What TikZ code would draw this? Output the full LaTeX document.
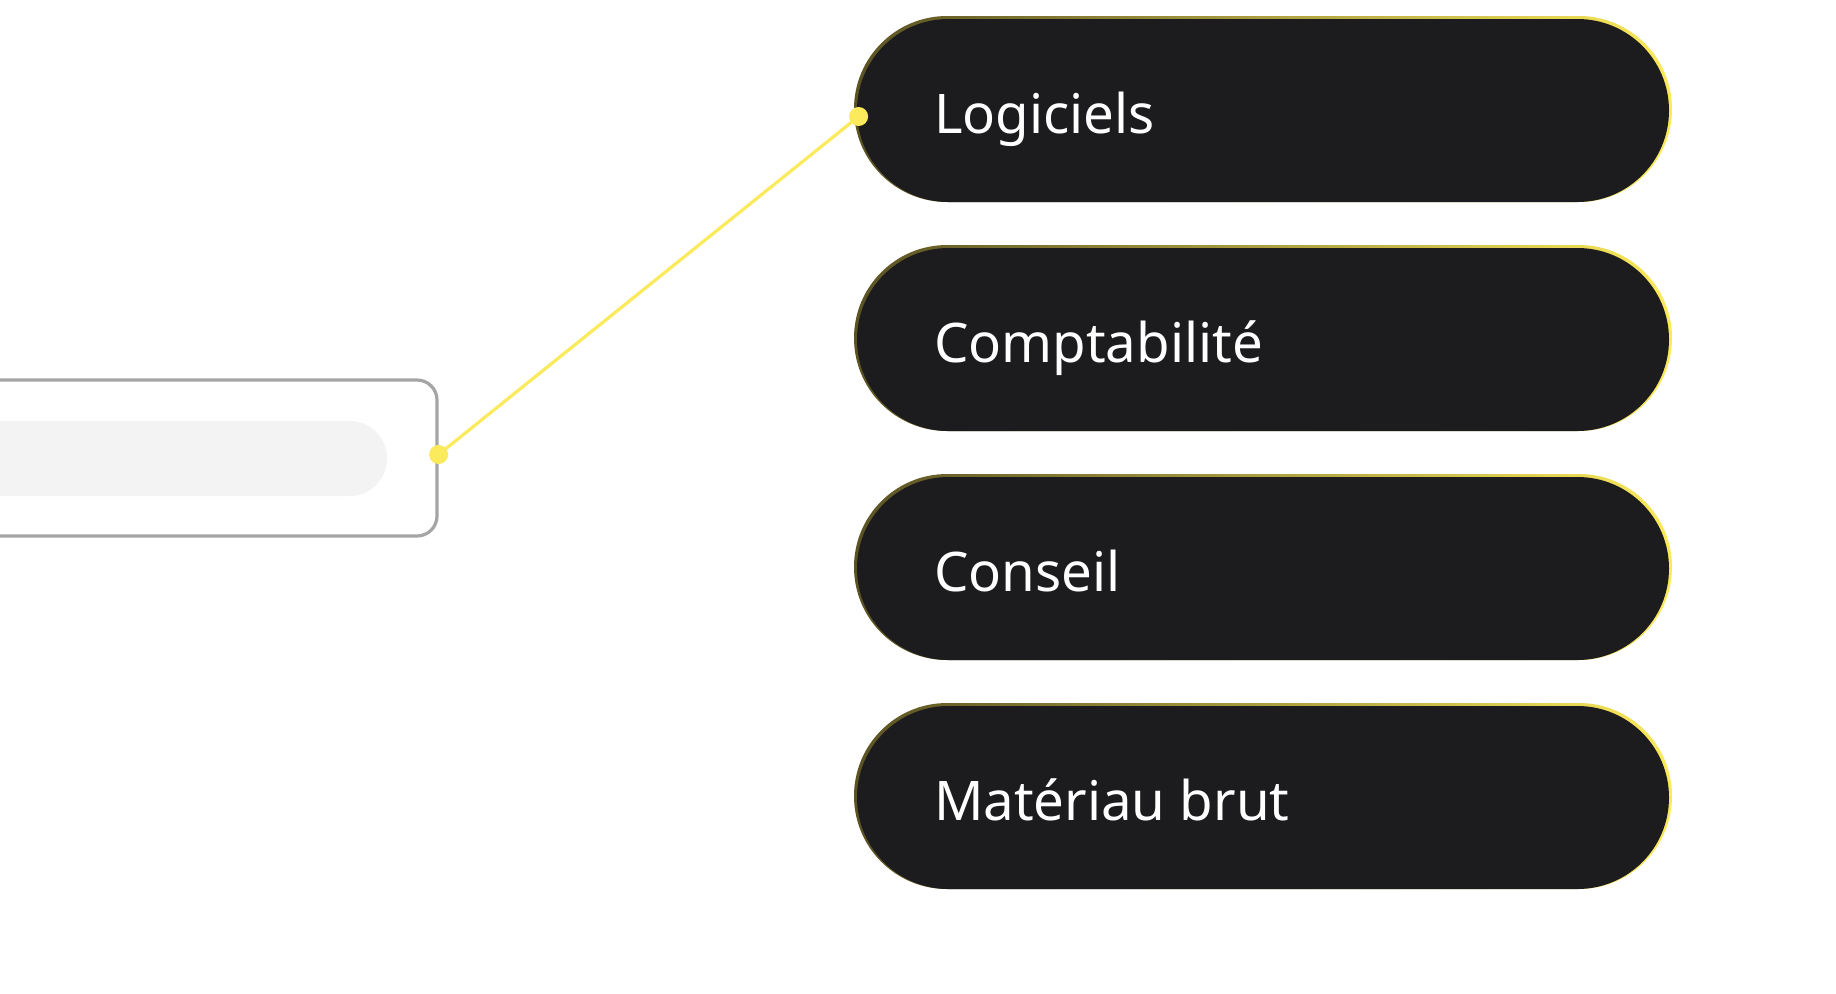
\documentclass[tikz,border=0pt]{standalone}
\usepackage{fontspec}
\setmainfont{Noto Sans}
\usepackage{xcolor}
\usetikzlibrary{positioning}
\definecolor{pillc}{HTML}{1C1B1E}
\definecolor{yellowc}{HTML}{FBEA5B}
\definecolor{rimdark}{HTML}{5A5223}
\definecolor{boxgray}{HTML}{A5A5A5}
\definecolor{barc}{HTML}{F3F3F3}
\tikzset{
  pillrim/.style={shade, left color=rimdark, right color=yellowc, rounded corners=46.5pt,
    minimum width=409pt, minimum height=93pt, inner sep=0pt},
  pill/.style={fill=pillc, rounded corners=45.75pt, minimum width=406pt,
    minimum height=91.5pt, inner sep=0pt},
  pilltext/.style={text=white, font=\fontsize{27.3}{32}\selectfont, inner sep=0pt},
  srcbox/.style={draw=boxgray, line width=1.6pt, fill=white, rounded corners=10pt,
    minimum width=268.5pt, minimum height=78pt, inner sep=0pt},
  link/.style={draw=yellowc, line width=1.6pt},
  dot/.style={fill=yellowc}
}

\begin{document}
\begin{tikzpicture}[x=0.5pt, y=-0.5pt]
\useasboundingbox[fill=white] (0,0) rectangle (1836,993);
% source box, partly off the left edge
\node[srcbox] (source) at (168.5,458) {};
\node[fill=barc, rounded corners=18.75pt, minimum width=243.5pt, minimum height=37.5pt, inner sep=0pt]
  (placeholder) at (143.5,458.5) {};
% the four pills
\foreach \y/\nm/\txt in {109/soft/Logiciels, 338/compta/Comptabilité, 567/conseil/Conseil, 796/materiau/Matériau brut}{
  \node[pillrim] (\nm rim) at (1263,\y) {};
  \node[pill] (\nm) at (1263,{\y+1.5}) {};
  \node[pilltext, anchor=base west] at ([xshift=40pt, yshift=-12pt]\nm rim.west) {\txt};
}
\coordinate (srcport) at ([yshift=1.75pt]source.east);
\coordinate (softport) at ([xshift=1pt, yshift=-3pt]soft.west);
\draw[link] (srcport) -- (softport);
\fill[dot] (srcport) circle (4.75pt);
\fill[dot] (softport) circle (4.75pt);
\end{tikzpicture}
\end{document}
